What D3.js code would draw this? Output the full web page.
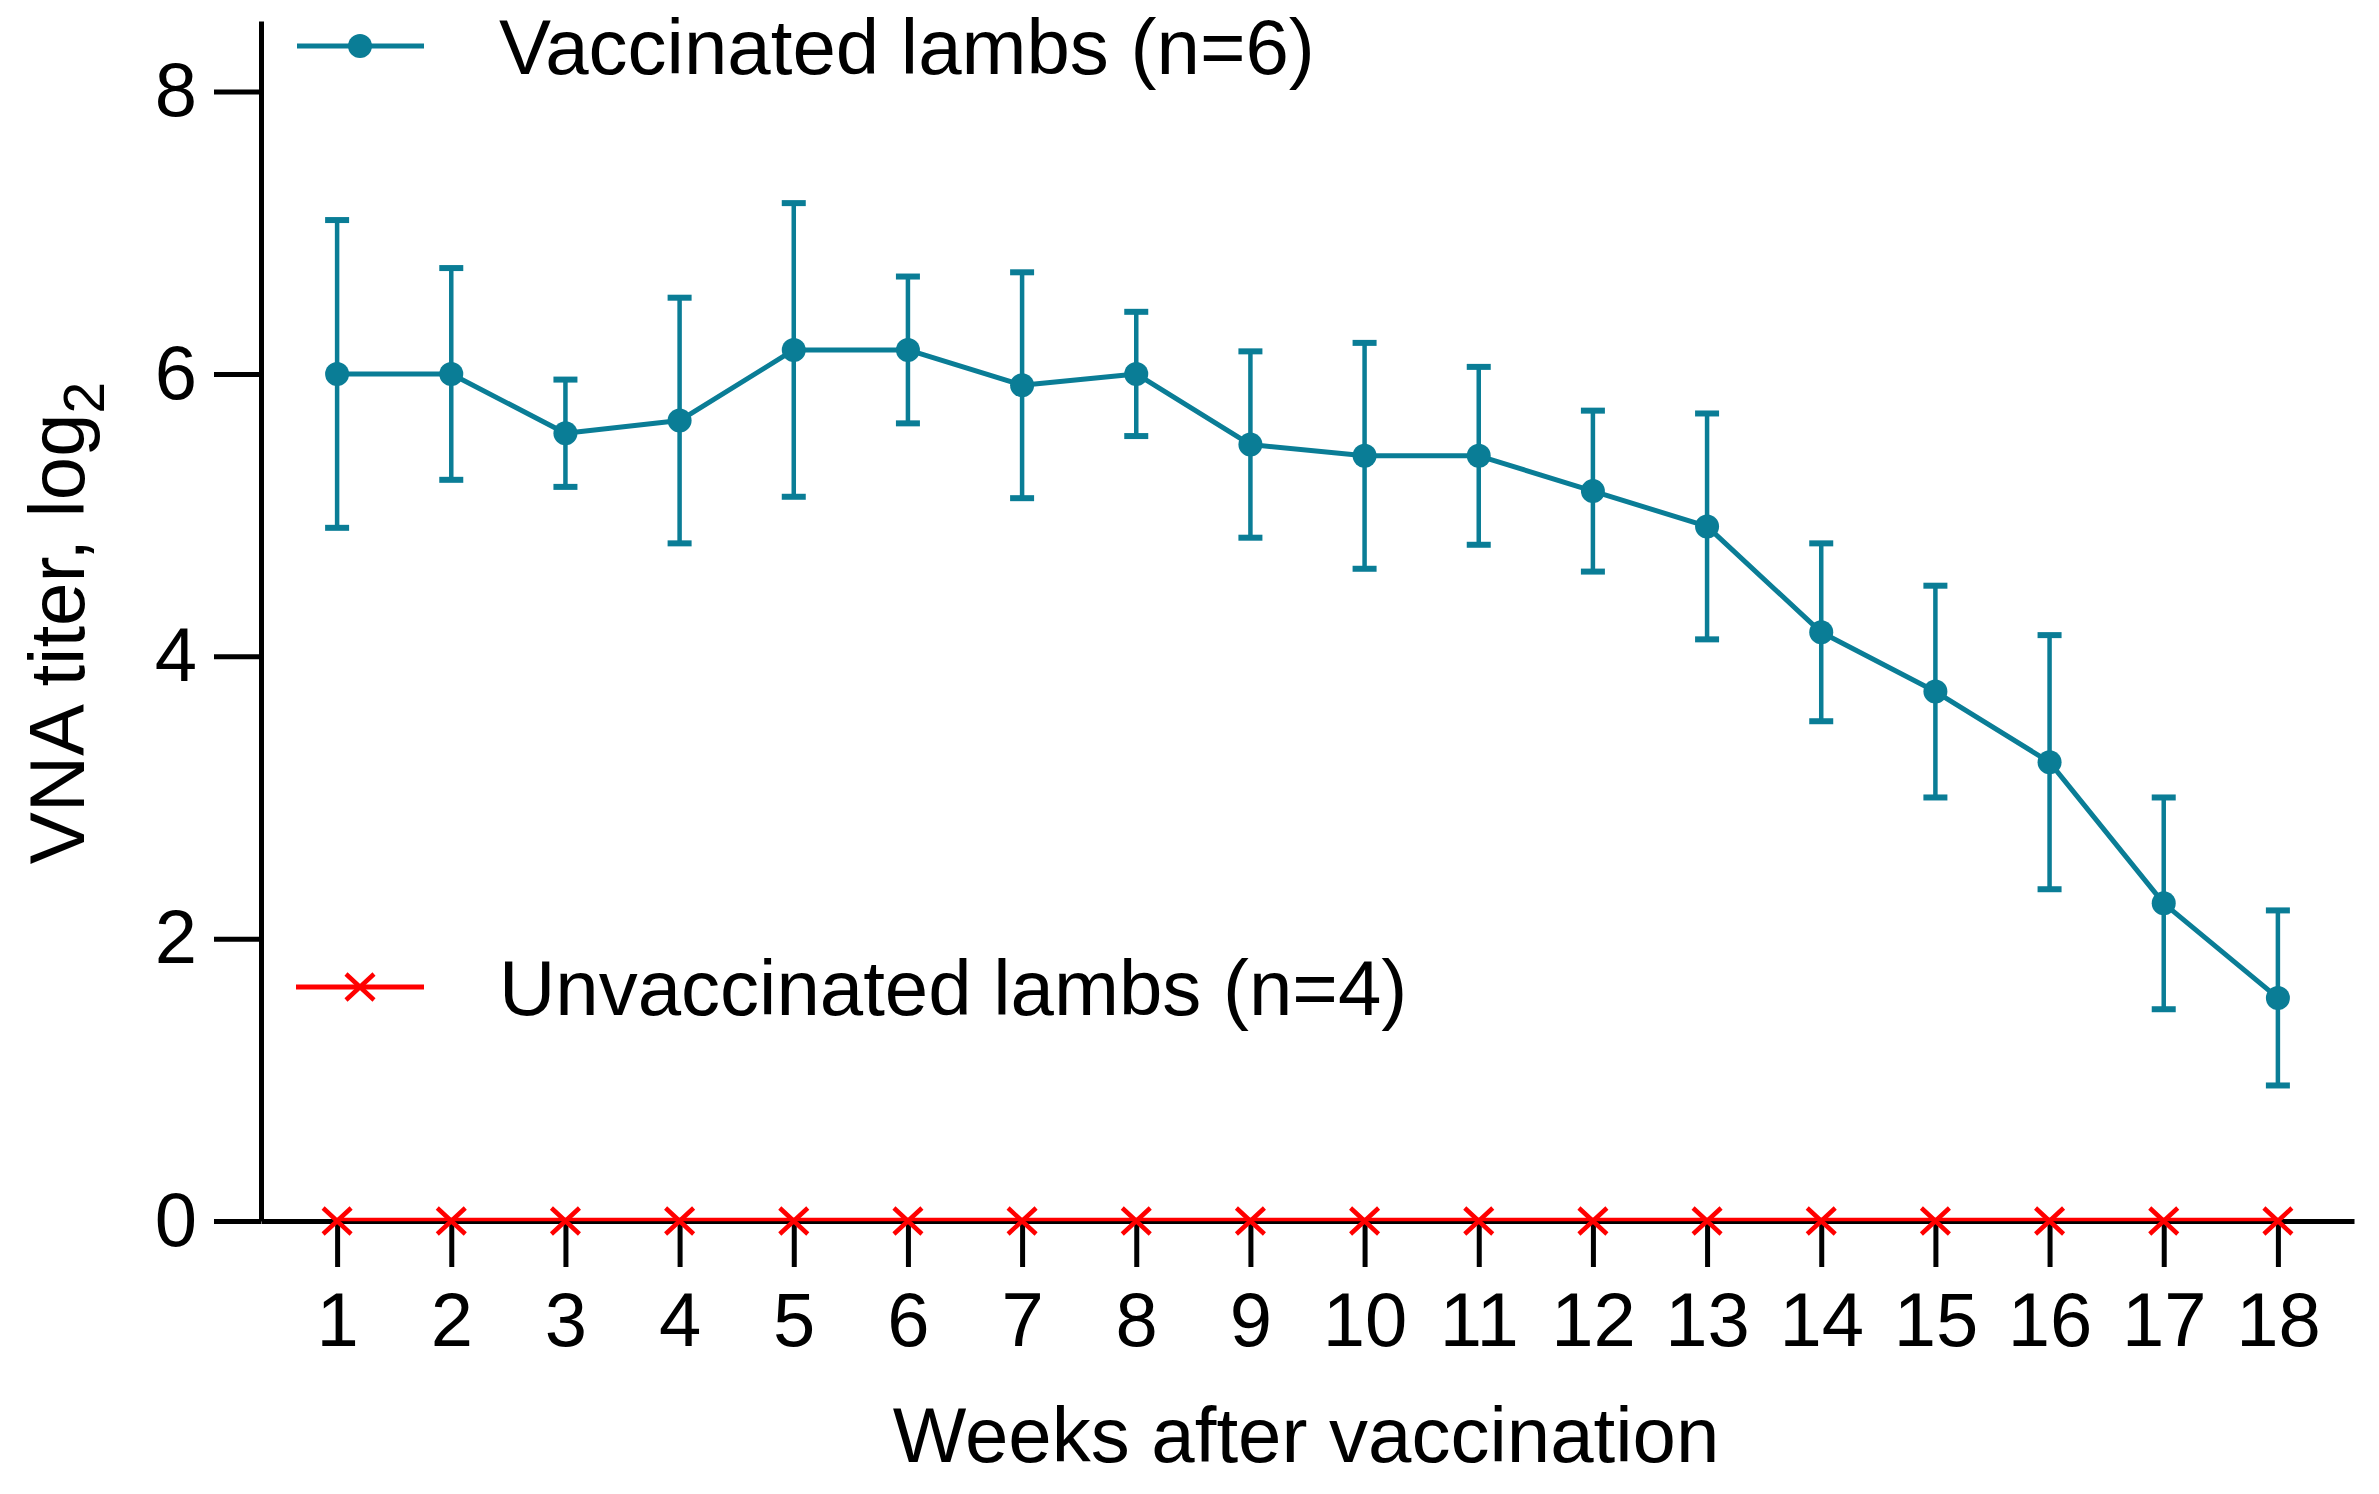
<!DOCTYPE html>
<html>
<head>
<meta charset="utf-8">
<script src="https://cdn.jsdelivr.net/npm/d3@7"></script>
<style>
  html, body { margin: 0; padding: 0; background: #fff; }
  svg { display: block; font-family: "Liberation Sans", Arial, sans-serif; }
</style>
</head>
<body>
<svg id="chart" width="2379" height="1494"></svg>
<script>
// VNA titer by week after vaccination

const weeks = [1, 2, 3, 4, 5, 6, 7, 8, 9, 10, 11, 12, 13, 14, 15, 16, 17, 18];
const vaccinatedMean = [6.0, 6.0, 5.58, 5.67, 6.17, 6.17, 5.92, 6.0, 5.5, 5.42, 5.42, 5.17, 4.92, 4.17, 3.75, 3.25, 2.25, 1.58];
const vaccinatedSD = [1.09, 0.75, 0.38, 0.87, 1.04, 0.52, 0.8, 0.44, 0.66, 0.8, 0.63, 0.57, 0.8, 0.63, 0.75, 0.9, 0.75, 0.62];
const unvaccinated = [0, 0, 0, 0, 0, 0, 0, 0, 0, 0, 0, 0, 0, 0, 0, 0, 0, 0];
const yTicks = [0, 2, 4, 6, 8];

const labels = {
    vaccinated: "Vaccinated lambs (n=6)",
    unvaccinated: "Unvaccinated lambs (n=4)",
    x: "Weeks after vaccination",
    y: "VNA titer, log"
};

const TEAL = "#0a7d96";
const RED = "#ff0000";
const TICK_FONT = 76;
const TITLE_FONT = 78;

const svg = d3.select("#chart");

/* ------------------------------------------------------------------
   Scales
------------------------------------------------------------------ */

const x = d3.scaleLinear().domain([1 / 3, 18 + 2 / 3]).range([261, 2354]);
const y = d3.scaleLinear().domain([0, 8.5]).range([1221, 21]);

/* ------------------------------------------------------------------
   Axes
------------------------------------------------------------------ */

const yAxis = svg.append("g")
    .attr("transform", `translate(${x.range()[0]},0)`)
    .call(d3.axisLeft(y).tickValues(yTicks).tickSize(47).tickSizeOuter(0).tickPadding(17));

const xAxis = svg.append("g")
    .attr("transform", `translate(0,${y(0)})`)
    .call(d3.axisBottom(x).tickValues(weeks).tickSize(46).tickSizeOuter(0).tickPadding(25));

[xAxis, yAxis].forEach(g => {
    g.select(".domain").attr("stroke", "#000").attr("stroke-width", 5);
    g.selectAll(".tick line").attr("stroke", "#000").attr("stroke-width", 5);
    g.selectAll(".tick text")
        .attr("fill", "#000")
        .attr("font-size", TICK_FONT)
        .attr("font-family", "Liberation Sans, Arial, sans-serif");
});

/* ------------------------------------------------------------------
   Unvaccinated series (sits on the x axis)
------------------------------------------------------------------ */

const rows = weeks.map((w, i) => ({
    week: w,
    mean: vaccinatedMean[i],
    sd: vaccinatedSD[i],
    zero: unvaccinated[i]
}));

const crossPath = (cx, cy) =>
    `M${cx - 14},${cy - 13}L${cx + 14},${cy + 13}M${cx - 14},${cy + 13}L${cx + 14},${cy - 13}`;

svg.append("path")
    .datum(rows)
    .attr("fill", "none")
    .attr("stroke", RED)
    .attr("stroke-width", 3.5)
    .attr("d", d3.line().x(d => x(d.week)).y(d => y(d.zero) - 1.5));

svg.append("g")
    .selectAll("path")
    .data(rows)
    .join("path")
    .attr("d", d => crossPath(x(d.week), y(d.zero)))
    .attr("stroke", RED)
    .attr("stroke-width", 4.5)
    .attr("fill", "none");

/* ------------------------------------------------------------------
   Vaccinated series: error bars, line, dots
------------------------------------------------------------------ */

const CAP = 12;
const bars = svg.append("g")
    .selectAll("g")
    .data(rows)
    .join("g")
    .attr("stroke", TEAL);

bars.append("line")
    .attr("x1", d => x(d.week)).attr("x2", d => x(d.week))
    .attr("y1", d => y(d.mean + d.sd)).attr("y2", d => y(d.mean - d.sd))
    .attr("stroke-width", 4.5);

bars.append("line")
    .attr("x1", d => x(d.week) - CAP).attr("x2", d => x(d.week) + CAP)
    .attr("y1", d => y(d.mean + d.sd)).attr("y2", d => y(d.mean + d.sd))
    .attr("stroke-width", 6);

bars.append("line")
    .attr("x1", d => x(d.week) - CAP).attr("x2", d => x(d.week) + CAP)
    .attr("y1", d => y(d.mean - d.sd)).attr("y2", d => y(d.mean - d.sd))
    .attr("stroke-width", 6);

svg.append("path")
    .datum(rows)
    .attr("fill", "none")
    .attr("stroke", TEAL)
    .attr("stroke-width", 5)
    .attr("stroke-linejoin", "round")
    .attr("d", d3.line().x(d => x(d.week)).y(d => y(d.mean)));

svg.append("g")
    .selectAll("circle")
    .data(rows)
    .join("circle")
    .attr("cx", d => x(d.week))
    .attr("cy", d => y(d.mean))
    .attr("r", 12)
    .attr("fill", TEAL);

/* ------------------------------------------------------------------
   Legend
------------------------------------------------------------------ */

const legend = svg.append("g");

legend.append("line")
    .attr("x1", 297).attr("x2", 424).attr("y1", 46).attr("y2", 46)
    .attr("stroke", TEAL).attr("stroke-width", 5);
legend.append("circle")
    .attr("cx", 360).attr("cy", 46).attr("r", 12).attr("fill", TEAL);
legend.append("text")
    .attr("x", 499).attr("y", 74)
    .attr("font-size", TITLE_FONT)
    .text(labels.vaccinated);

legend.append("line")
    .attr("x1", 296).attr("x2", 424).attr("y1", 987).attr("y2", 987)
    .attr("stroke", RED).attr("stroke-width", 5);
legend.append("path")
    .attr("d", crossPath(360, 987))
    .attr("stroke", RED).attr("stroke-width", 4.5).attr("fill", "none");
legend.append("text")
    .attr("x", 499).attr("y", 1015)
    .attr("font-size", TITLE_FONT)
    .text(labels.unvaccinated);

/* ------------------------------------------------------------------
   Axis titles
------------------------------------------------------------------ */

svg.append("text")
    .attr("x", 1306).attr("y", 1462)
    .attr("text-anchor", "middle")
    .attr("font-size", TITLE_FONT)
    .text(labels.x);

const yTitle = svg.append("text")
    .attr("transform", "translate(84,623) rotate(-90)")
    .attr("text-anchor", "middle")
    .attr("font-size", TITLE_FONT);
yTitle.append("tspan").text(labels.y);
yTitle.append("tspan").attr("font-size", 57).attr("dy", 20).text("2");
</script>
</body>
</html>
